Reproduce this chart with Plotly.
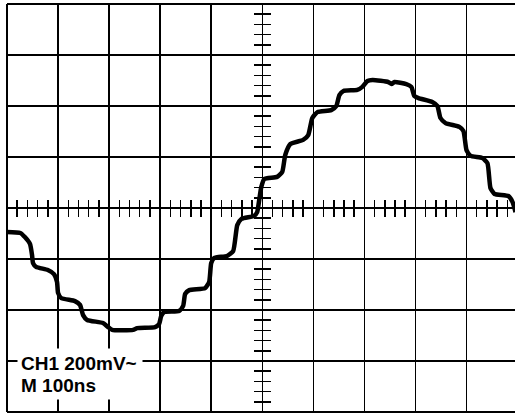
import plotly.graph_objects as go

# time in ns (100 ns/div), voltage in mV (200 mV/div)
T_NS = [
    -500, -474, -465, -455, -451, -449, -443, -420, -408, -402, -400, -394,
    -367, -357, -351, -343, -312, -302, -294, -253, -245, -210, -202, -198,
    -192, -163, -155, -151, -143, -112, -104, -100, -94, -69, -57, -49, -41,
    -16, -10, -6, -2, 4, 29, 39, 45, 55, 80, 90, 98, 108, 135, 145, 151,
    159, 186, 196, 206, 216, 247, 253, 259, 282, 292, 298, 306, 333, 343,
    349, 359, 386, 394, 400, 408, 431, 441, 447, 455, 482, 490, 496,
]
V_MV = [
    -94, -98, -114, -141, -184, -216, -231, -243, -259, -290, -333, -353,
    -365, -380, -420, -439, -451, -467, -478, -478, -471, -467, -455, -424,
    -408, -404, -384, -337, -322, -314, -290, -216, -196, -188, -169, -67,
    -43, -31, -16, 31, 82, 114, 122, 141, 208, 251, 267, 286, 353, 376, 384,
    400, 443, 459, 463, 475, 498, 502, 494, 486, 494, 486, 475, 439, 431,
    416, 400, 353, 333, 318, 302, 227, 204, 196, 176, 78, 55, 47, 24, -16,
]

LABEL_LINES = ["CH1 200mV~", "M 100ns"]
LABEL_Y_MV = [-609, -693]

X_RANGE = [-500, 495]
Y_RANGE = [-800, 800]
INK = "#000000"
FONT = "Liberation Sans"

fig = go.Figure()
fig.add_trace(
    go.Scatter(
        x=T_NS,
        y=V_MV,
        mode="lines",
        line=dict(color=INK, width=4.5, shape="spline", smoothing=0.5),
        hoverinfo="skip",
    )
)
# empty trace so the overlaid graticule axes get drawn
fig.add_trace(go.Scatter(x=[], y=[], xaxis="x2", yaxis="y2", hoverinfo="skip"))

x_mid = (0 - X_RANGE[0]) / (X_RANGE[1] - X_RANGE[0])
y_mid = (0 - Y_RANGE[0]) / (Y_RANGE[1] - Y_RANGE[0])

common = dict(
    showticklabels=False,
    zeroline=False,
    showline=False,
    fixedrange=True,
    automargin=False,
)


def _minor(step, side):
    return dict(dtick=step, tick0=0, ticks=side, ticklen=8,
                tickwidth=1.5, tickcolor=INK, showgrid=False)


fig.update_layout(
    width=515,
    height=413,
    margin=dict(l=7, r=0, t=4, b=1, pad=0),
    paper_bgcolor="white",
    plot_bgcolor="white",
    showlegend=False,
    font=dict(family=FONT, color=INK),
    xaxis=dict(
        range=X_RANGE, dtick=100, tick0=0, ticks="",
        showgrid=True, gridcolor=INK, gridwidth=1.5,
        anchor="free", position=y_mid, minor=_minor(20, "outside"),
        **common,
    ),
    xaxis2=dict(
        range=X_RANGE, dtick=100, tick0=0, ticks="", showgrid=False,
        overlaying="x", anchor="free", position=y_mid, minor=_minor(20, "inside"),
        **common,
    ),
    yaxis=dict(
        range=Y_RANGE, dtick=200, tick0=0, ticks="",
        showgrid=True, gridcolor=INK, gridwidth=1.5,
        anchor="free", position=x_mid, minor=_minor(40, "outside"),
        **common,
    ),
    yaxis2=dict(
        range=Y_RANGE, dtick=200, tick0=0, ticks="", showgrid=False,
        overlaying="y", anchor="free", position=x_mid, minor=_minor(40, "inside"),
        **common,
    ),
)

# screen frame (right edge falls outside the picture)
frame = dict(color=INK, width=2)
fig.add_shape(type="line", xref="paper", yref="paper", x0=0, x1=0, y0=0, y1=1, line=frame)
fig.add_shape(type="line", xref="paper", yref="paper", x0=0, x1=1, y0=1, y1=1, line=frame)
fig.add_shape(type="line", xref="paper", yref="paper", x0=0, x1=1, y0=0, y1=0, line=frame)

for line, y_mv in zip(LABEL_LINES, LABEL_Y_MV):
    fig.add_annotation(
        x=-480, y=y_mv, xref="x", yref="y",
        text="<b>" + line + "</b>",
        showarrow=False, xanchor="left", yanchor="middle", align="left",
        width=118, height=22,
        font=dict(size=19, color=INK, family=FONT, weight="bold"),
        bgcolor="white", borderpad=3,
    )

# drop the browser's default page margin so the figure sits at 0,0
fig.write_html(
    "out.html",
    config={"displayModeBar": False, "staticPlot": True},
    post_script="document.body.style.margin='0';document.body.style.overflow='hidden';",
)
